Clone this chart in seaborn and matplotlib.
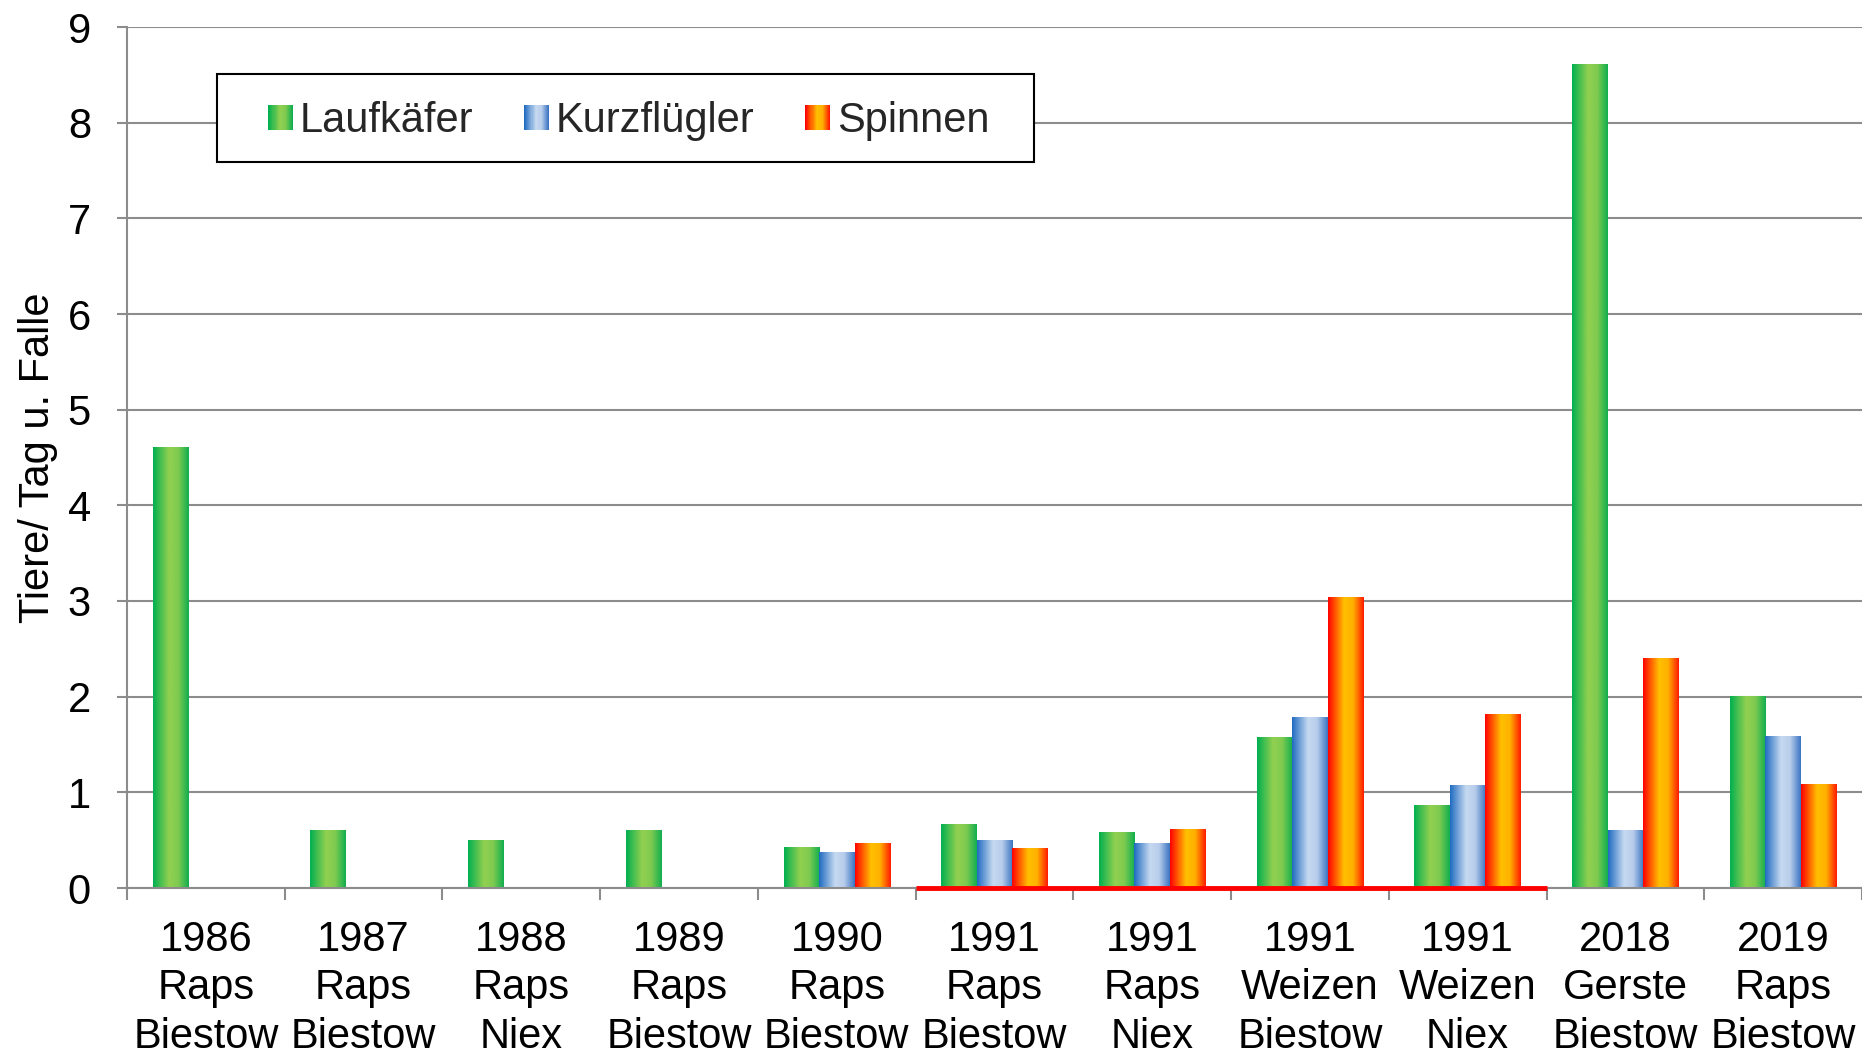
import numpy as np
import pandas as pd
import matplotlib
matplotlib.use("Agg")
import matplotlib.pyplot as plt
import seaborn as sns
from matplotlib.colors import LinearSegmentedColormap
from matplotlib.legend_handler import HandlerBase
from matplotlib.patches import Rectangle

# Data
standorte = ["1986\nRaps\nBiestow", "1987\nRaps\nBiestow", "1988\nRaps\nNiex",
             "1989\nRaps\nBiestow", "1990\nRaps\nBiestow", "1991\nRaps\nBiestow",
             "1991\nRaps\nNiex", "1991\nWeizen\nBiestow", "1991\nWeizen\nNiex",
             "2018\nGerste\nBiestow", "2019\nRaps\nBiestow"]
gruppen = ["Laufkäfer", "Kurzflügler", "Spinnen"]
laufkaefer = [4.6, 0.6, 0.5, 0.6, 0.42, 0.66, 0.575, 1.57, 0.86, 8.61, 2.0]
kurzfluegler = [0, 0, 0, 0, 0.375, 0.5, 0.46, 1.785, 1.075, 0.6, 1.585]
spinnen = [0, 0, 0, 0, 0.46, 0.41, 0.615, 3.04, 1.81, 2.4, 1.085]

df = pd.DataFrame({
    "Standort": standorte * 3,
    "Gruppe": np.repeat(gruppen, len(standorte)),
    "Wert": laufkaefer + kurzfluegler + spinnen,
})

# gradient fills like the original office chart
cmaps = {
    "Laufkäfer": LinearSegmentedColormap.from_list(
        "g", [(0, "#00B050"), (0.45, "#92D050"), (0.7, "#7FCB50"), (1, "#10AE4E")]),
    "Kurzflügler": LinearSegmentedColormap.from_list(
        "b", [(0, "#1F6BC0"), (0.45, "#C6D9F1"), (0.7, "#B8CDEB"), (1, "#3A74C2")]),
    "Spinnen": LinearSegmentedColormap.from_list(
        "o", [(0, "#FF0000"), (0.45, "#FFC000"), (0.7, "#FFB000"), (1, "#FF1A00")]),
}
grad = np.linspace(0, 1, 256).reshape(1, -1)


class GradientHandler(HandlerBase):
    def __init__(self, cmap):
        super().__init__()
        self.cmap = cmap

    def create_artists(self, legend, orig_handle, xdescent, ydescent,
                       width, height, fontsize, trans):
        size = height
        x0 = -xdescent + width - size
        n = 24
        arts = []
        for i in range(n):
            r = Rectangle((x0 + i * size / n, -ydescent), size / n * 1.05, size,
                          facecolor=self.cmap(i / (n - 1)), lw=0, transform=trans)
            arts.append(r)
        return arts


sns.set_theme(style="white")
plt.rcParams["font.family"] = ["Liberation Sans", "DejaVu Sans"]

fig = plt.figure(figsize=(18.62, 10.56), dpi=100)
ax = fig.add_axes([127 / 1862, 1 - 888 / 1056, 1 - 127 / 1862, 861 / 1056])

sns.barplot(data=df, x="Standort", y="Wert", hue="Gruppe", order=standorte,
            hue_order=gruppen, width=0.675, saturation=1, legend=False, ax=ax,
            palette=["#92D050", "#C6D9F1", "#FFC000"], zorder=2)

for cont, name in zip(ax.containers, gruppen):
    for p in cont:
        p.set_visible(False)
        h = p.get_height()
        if h <= 0:
            continue
        x, w = p.get_x(), p.get_width()
        ax.imshow(grad, cmap=cmaps[name], extent=(x, x + w, 0, h), aspect="auto",
                  interpolation="bilinear", zorder=2)

ax.set_xlim(-0.5, len(standorte) - 0.5)
ax.set_ylim(0, 9)
ax.set_yticks(range(10))

# red marker line along the 1991 sites
ax.hlines(0, 4.5, 8.5, color="#FF0000", lw=3.5, zorder=5, clip_on=False)

ax.yaxis.grid(True, color="#8C8C8C", lw=1.5)
ax.set_axisbelow(True)
for s in ["top", "right"]:
    ax.spines[s].set_visible(False)
for s in ["left", "bottom"]:
    ax.spines[s].set_color("#8C8C8C")
    ax.spines[s].set_linewidth(1.5)

ax.set_xticks(np.arange(-0.5, len(standorte), 1), minor=True)
ax.tick_params(axis="x", which="major", length=0, pad=23, labelsize=30, colors="black")
ax.tick_params(axis="x", which="minor", length=8.5, width=1.5, color="#8C8C8C",
               direction="out", bottom=True)
ax.tick_params(axis="y", length=7, width=1.5, color="#8C8C8C", pad=19,
               labelsize=30, labelcolor="black", left=True)
for lbl in ax.get_xticklabels():
    lbl.set_linespacing(1.27)
ax.set_xlabel("")
ax.set_ylabel("Tiere/ Tag u. Falle", fontsize=30, color="black")
ax.yaxis.set_label_coords(-0.040, 0.5)

# legend box drawn separately so its size matches the original
ax.add_patch(Rectangle(((217 - 127) / 1733, (888 - 162) / 861), 816 / 1733, 88 / 861,
                       transform=ax.transAxes, facecolor="white", edgecolor="black",
                       lw=1.5, zorder=6))
handles = [Rectangle((0, 0), 1, 1) for _ in gruppen]
leg = ax.legend(handles, gruppen, loc="upper left",
                bbox_to_anchor=((217 - 127) / 1733, (888 - 77.5) / 861),
                ncol=3, fontsize=30, frameon=False,
                borderaxespad=0, borderpad=0.565, handlelength=1.265,
                handleheight=0.55, handletextpad=0.16, columnspacing=0.55,
                handler_map={h: GradientHandler(cmaps[g]) for h, g in zip(handles, gruppen)})
leg.set_zorder(7)

fig.savefig("out.png", dpi=100, facecolor="white")
